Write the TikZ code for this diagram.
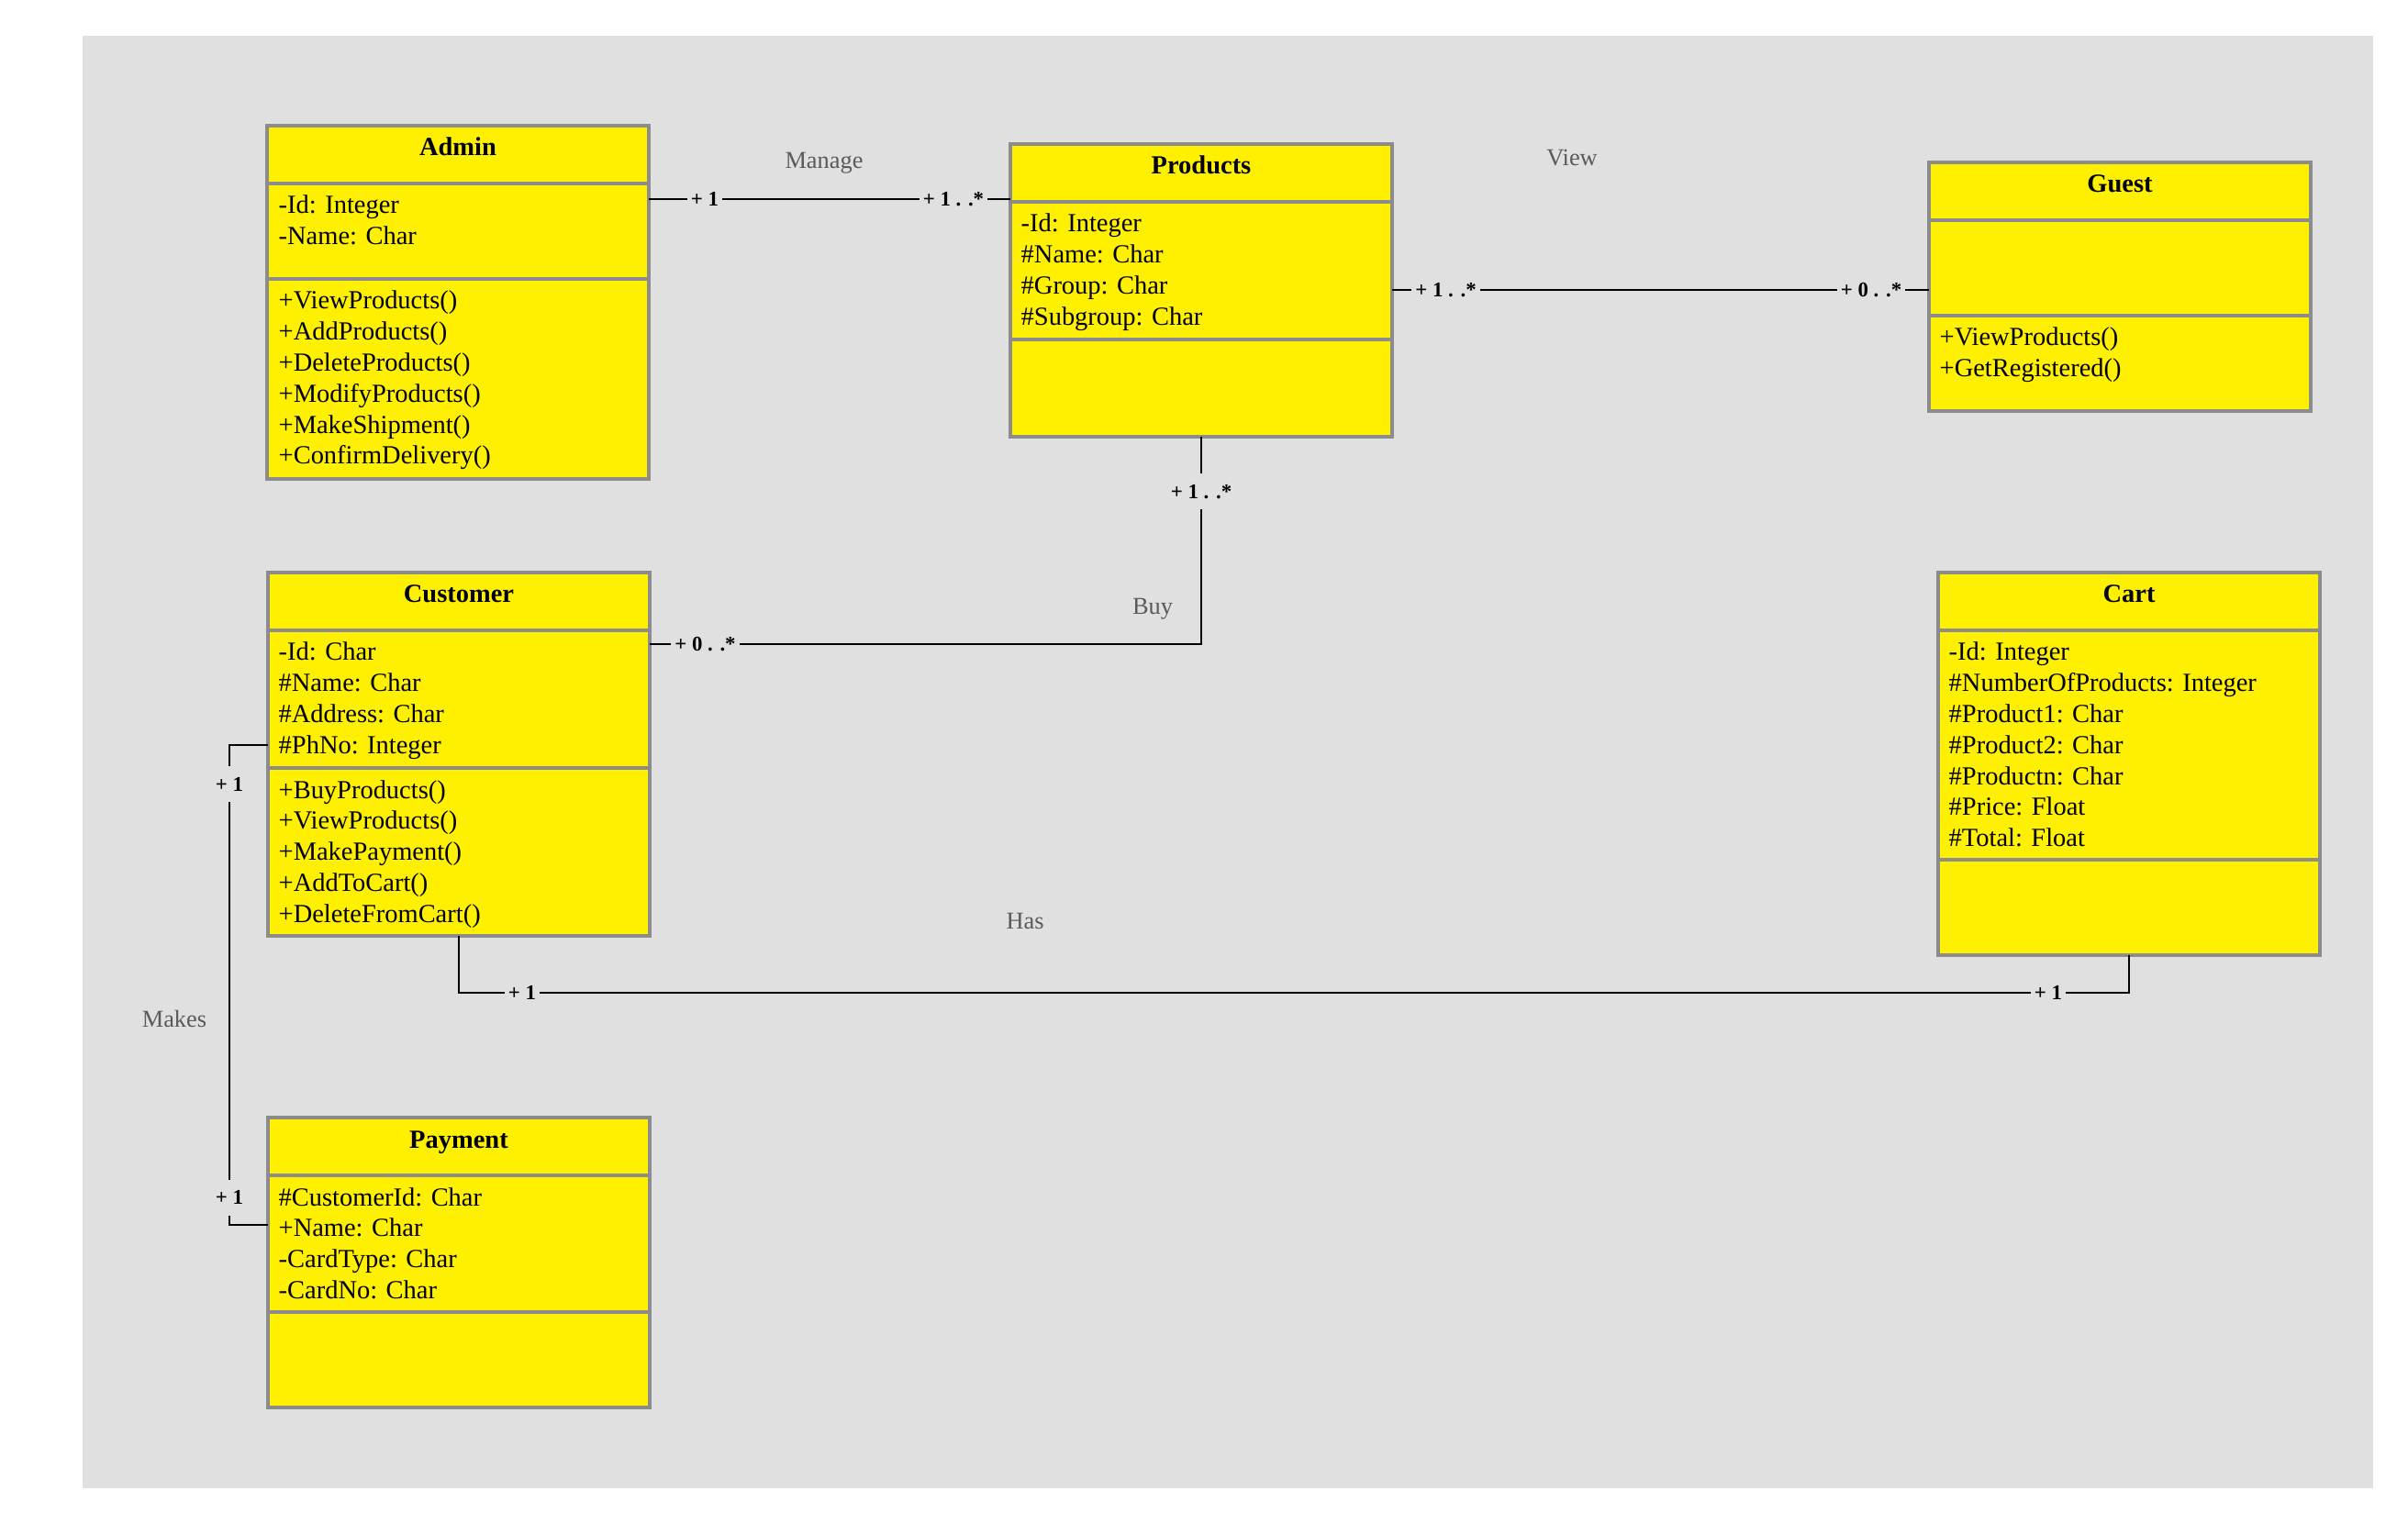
\documentclass[tikz,border=0pt]{standalone}
\usepackage{fontspec}
\setmainfont{Liberation Serif}
\usetikzlibrary{positioning,calc}
\definecolor{bggray}{HTML}{E0E0E0}
\definecolor{clsyellow}{HTML}{FFF000}
\definecolor{clsborder}{HTML}{8C8C8C}
\definecolor{relgray}{HTML}{5A5A5A}

\begin{document}
\begin{tikzpicture}[x=1cm,y=-1cm,
  cls/.style={draw=clsborder,fill=clsyellow,line width=0.95pt,minimum width=4.16cm,inner sep=0pt,outer sep=0pt},
  clsname/.style={anchor=base,inner sep=0pt,font=\fontsize{8.1}{9.6}\selectfont\bfseries},
  member/.style={anchor=base west,inner sep=0pt,font=\fontsize{8.1}{9.6}\selectfont},
  assoc/.style={line width=0.8pt},
  mult/.style={fill=bggray,inner xsep=0.04cm,inner ysep=0.1cm,text height=0.17cm,text depth=0.02cm,font=\fontsize{6.5}{7}\selectfont\bfseries},
  rel/.style={text=relgray,inner sep=0pt,font=\fontsize{7.5}{9}\selectfont}]
	\useasboundingbox (0,0) rectangle (26.24,16.61);
	\fill[white] (0,0) rectangle (26.24,16.61);
	\fill[bggray] (0.90,0.39) rectangle (25.86,16.22);

	% Admin
	\node[cls,anchor=north west,minimum height=0.63cm] (admin-t) at (2.91,1.37) {};
	\node[cls,below=0pt of admin-t,minimum height=1.04cm] (admin-a) {};
	\node[cls,below=0pt of admin-a,minimum height=2.18cm] (admin-m) {};
	\node[clsname] (admin-n) at ($(admin-t.north)+(0,0.33)$) {Admin};
	\foreach \s [count=\i] in {-Id: Integer,-Name: Char}
		\node[member] (admin-a\i) at ($(admin-a.north west)+(0.12,{0.338*\i-0.008})$) {\s};
	\foreach \s [count=\i] in {+ViewProducts(),+AddProducts(),+DeleteProducts(),+ModifyProducts(),+MakeShipment(),+ConfirmDelivery()}
		\node[member] (admin-m\i) at ($(admin-m.north west)+(0.12,{0.338*\i-0.008})$) {\s};

	% Products
	\node[cls,anchor=north west,minimum height=0.63cm] (products-t) at (11.01,1.57) {};
	\node[cls,below=0pt of products-t,minimum height=1.50cm] (products-a) {};
	\node[cls,below=0pt of products-a,minimum height=1.06cm] (products-m) {};
	\node[clsname] (products-n) at ($(products-t.north)+(0,0.33)$) {Products};
	\foreach \s [count=\i] in {-Id: Integer,\#Name: Char,\#Group: Char,\#Subgroup: Char}
		\node[member] (products-a\i) at ($(products-a.north west)+(0.11,{0.338*\i-0.008})$) {\s};

	% Guest
	\node[cls,anchor=north west,minimum height=0.63cm] (guest-t) at (21.02,1.77) {};
	\node[cls,below=0pt of guest-t,minimum height=1.04cm] (guest-a) {};
	\node[cls,below=0pt of guest-a,minimum height=1.04cm] (guest-m) {};
	\node[clsname] (guest-n) at ($(guest-t.north)+(0,0.33)$) {Guest};
	\foreach \s [count=\i] in {+ViewProducts(),+GetRegistered()}
		\node[member] (guest-m\i) at ($(guest-m.north west)+(0.11,{0.338*\i-0.008})$) {\s};

	% Customer
	\node[cls,anchor=north west,minimum height=0.63cm] (customer-t) at (2.92,6.24) {};
	\node[cls,below=0pt of customer-t,minimum height=1.50cm] (customer-a) {};
	\node[cls,below=0pt of customer-a,minimum height=1.83cm] (customer-m) {};
	\node[clsname] (customer-n) at ($(customer-t.north)+(0,0.33)$) {Customer};
	\foreach \s [count=\i] in {-Id: Char,\#Name: Char,\#Address: Char,\#PhNo: Integer}
		\node[member] (customer-a\i) at ($(customer-a.north west)+(0.11,{0.338*\i-0.008})$) {\s};
	\foreach \s [count=\i] in {+BuyProducts(),+ViewProducts(),+MakePayment(),+AddToCart(),+DeleteFromCart()}
		\node[member] (customer-m\i) at ($(customer-m.north west)+(0.11,{0.338*\i-0.008})$) {\s};

	% Cart
	\node[cls,anchor=north west,minimum height=0.63cm] (cart-t) at (21.12,6.24) {};
	\node[cls,below=0pt of cart-t,minimum height=2.50cm] (cart-a) {};
	\node[cls,below=0pt of cart-a,minimum height=1.04cm] (cart-m) {};
	\node[clsname] (cart-n) at ($(cart-t.north)+(0,0.33)$) {Cart};
	\foreach \s [count=\i] in {-Id: Integer,\#NumberOfProducts: Integer,\#Product1: Char,\#Product2: Char,\#Productn: Char,\#Price: Float,\#Total: Float}
		\node[member] (cart-a\i) at ($(cart-a.north west)+(0.11,{0.338*\i-0.008})$) {\s};

	% Payment
	\node[cls,anchor=north west,minimum height=0.63cm] (payment-t) at (2.92,12.18) {};
	\node[cls,below=0pt of payment-t,minimum height=1.49cm] (payment-a) {};
	\node[cls,below=0pt of payment-a,minimum height=1.04cm] (payment-m) {};
	\node[clsname] (payment-n) at ($(payment-t.north)+(0,0.33)$) {Payment};
	\foreach \s [count=\i] in {\#CustomerId: Char,+Name: Char,-CardType: Char,-CardNo: Char}
		\node[member] (payment-a\i) at ($(payment-a.north west)+(0.11,{0.338*\i-0.008})$) {\s};

	% Manage
	\coordinate (g1) at ($(admin-a.north east)+(0,0.17)$);
	\coordinate (g2) at (g1 -| products-t.west);
	\draw[assoc] (g1) -- (g2);
	\node[mult] (g1-m) at ($(g1)+(0.61,0)$) {+ 1};
	\node[mult] (g2-m) at ($(g2)+(-0.62,0)$) {+ 1 . .*};
	\node[rel] (manage) at (8.98,1.78) {Manage};

	% View
	\coordinate (v1) at ($(products-a.north east)+(0,0.96)$);
	\coordinate (v2) at (v1 -| guest-a.west);
	\draw[assoc] (v1) -- (v2);
	\node[mult] (v1-m) at ($(v1)+(0.585,0)$) {+ 1 . .*};
	\node[mult] (v2-m) at ($(v2)+(-0.63,0)$) {+ 0 . .*};
	\node[rel] (view) at (17.13,1.72) {View};

	% Buy
	\coordinate (b1) at ($(customer-a.north east)+(0,0.15)$);
	\draw[assoc] (products-m.south) |- (b1);
	\node[mult] (b0-m) at ($(products-m.south)+(0,0.60)$) {+ 1 . .*};
	\node[mult] (b1-m) at ($(b1)+(0.605,0)$) {+ 0 . .*};
	\node[rel] (buy) at (12.56,6.64) {Buy};

	% Has
	\draw[assoc] (customer-m.south) -- ++(0,0.62) -| (cart-m.south);
	\node[mult] (h1-m) at ($(customer-m.south)+(0.69,0.62)$) {+ 1};
	\node[mult] (h2-m) at ($(cart-m.south)+(-0.88,0.41)$) {+ 1};
	\node[rel] (has) at (11.17,10.04) {Has};

	% Makes
	\coordinate (k1) at ($(customer-a.north west)+(0,1.25)$);
	\coordinate (k2) at ($(payment-a.north west)+(0,0.54)$);
	\draw[assoc] (k1) -- ++(-0.42,0) |- (k2);
	\node[mult] (k1-m) at ($(k1)+(-0.42,0.43)$) {+ 1};
	\node[mult] (k2-m) at ($(k2)+(-0.42,-0.30)$) {+ 1};
	\node[rel] (makes) at (1.90,11.10) {Makes};
\end{tikzpicture}
\end{document}
